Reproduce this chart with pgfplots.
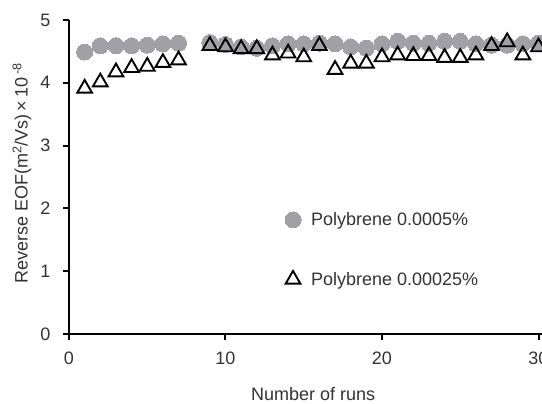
\documentclass[border=0pt]{standalone}
\usepackage{fontspec}
\setmainfont{Liberation Sans}
\usepackage{pgfplots}
\pgfplotsset{compat=1.18}
\definecolor{dotgray}{HTML}{A0A0A6}
\definecolor{txtgray}{HTML}{333333}

\begin{document}
\begin{tikzpicture}
\useasboundingbox (-69pt,-70pt) rectangle (473pt,334pt);
\begin{axis}[
  anchor=origin, at={(0pt,0pt)},
  x=15.65pt, y=62.8pt,
  xmin=0, xmax=30.2,
  ymin=0, ymax=5,
  clip=false,
  axis x line*=bottom,
  axis y line*=left,
  axis line style={black, line width=2pt},
  tick style={black, line width=2pt},
  tick align=outside,
  major tick length=6pt,
  xtick={0,10,20,30},
  ytick={0,1,2,3,4,5},
  /pgf/number format/assume math mode=true,
  tick label style={font=\fontsize{18}{21}\selectfont, text=txtgray},
  xticklabel style={yshift=-8pt},
  yticklabel style={xshift=-9pt},
  legend style={draw=none, fill=none, font=\fontsize{18}{21}\selectfont,
    text=txtgray, row sep=41pt, anchor=north west,
    at={(axis cs:13.6,2.0)},
    /tikz/column 1/.style={column sep=8pt}},
  legend cell align=left,
]
\addplot[only marks, mark=*, mark size=8pt, color=dotgray,
  mark options={draw=dotgray, fill=dotgray, line width=0pt}] coordinates {
(1,4.49) (2,4.59) (3,4.59) (4,4.59) (5,4.60) (6,4.62) (7,4.63)
(9,4.64) (10,4.61) (11,4.57) (12,4.55) (13,4.59) (14,4.62) (15,4.62)
(16,4.63) (17,4.62) (18,4.57) (19,4.55) (20,4.62) (21,4.66) (22,4.63)
(23,4.63) (24,4.66) (25,4.66) (26,4.62) (27,4.60) (28,4.60) (29,4.62)
(30,4.63)
};
\addlegendentry{Polybrene 0.0005\%}
\addplot[only marks, mark=triangle, mark size=8.5pt, line width=1.9pt,
  mark options={draw=black, fill=none}] coordinates {
(1,3.91) (2,4.01) (3,4.17) (4,4.24) (5,4.26) (6,4.32) (7,4.36)
(9,4.59) (10,4.57) (11,4.54) (12,4.54) (13,4.44) (14,4.47) (15,4.41)
(16,4.59) (17,4.21) (18,4.31) (19,4.31) (20,4.41) (21,4.44) (22,4.43)
(23,4.43) (24,4.40) (25,4.40) (26,4.44) (27,4.59) (28,4.65) (29,4.44)
(30,4.57)
};
\addlegendentry{Polybrene 0.00025\%}
\node[font=\fontsize{18}{21}\selectfont, text=txtgray] at (axis cs:15.6,-0.95) {Number of runs};
\node[font=\fontsize{18}{21}\selectfont, text=txtgray, rotate=90] at (axis cs:-3.0,2.56)
  {Reverse EOF(m\textsuperscript{2}/Vs)\,×\,10\,\textsuperscript{-8}};
\end{axis}
\end{tikzpicture}
\end{document}
